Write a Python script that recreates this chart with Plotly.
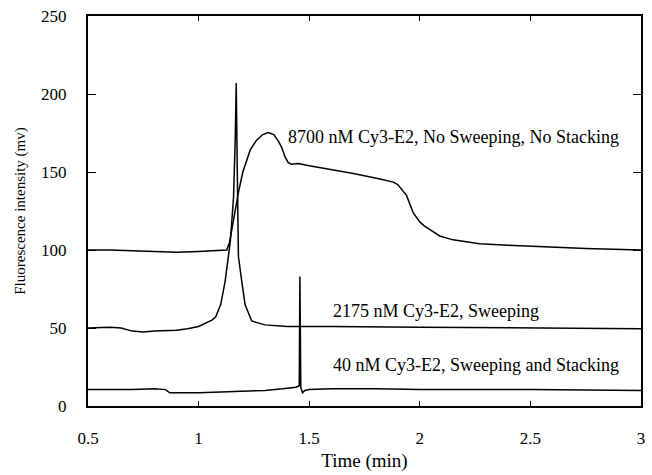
import plotly.graph_objects as go

# Trace 1: 8700 nM, no sweeping, no stacking
t1 = [0.5, 0.6, 0.7, 0.8, 0.9, 1.0, 1.1, 1.127, 1.14, 1.16, 1.18, 1.2, 1.233, 1.26, 1.29, 1.315,
      1.34, 1.36, 1.375, 1.39, 1.405, 1.42, 1.45, 1.5, 1.6, 1.7, 1.82, 1.88, 1.9, 1.94, 1.97, 2.0,
      2.02, 2.09, 2.15, 2.27, 2.4, 2.57, 2.75, 3.0]
v1 = [100, 100, 99.5, 99, 98.5, 99, 99.5, 100, 105, 122, 137, 150, 164, 170, 174, 175.3,
      174, 170, 166, 160, 156, 155, 155.5, 154, 151.5, 149, 145.5, 143.5, 142, 135, 124, 118,
      115.5, 109, 106.5, 104, 103, 102, 101, 100]

# Trace 2: 2175 nM, sweeping
t2 = [0.5, 0.6, 0.65, 0.7, 0.75, 0.8, 0.9, 0.95, 1.0, 1.03, 1.06, 1.077, 1.1, 1.12, 1.143, 1.15,
      1.158, 1.166, 1.17, 1.175, 1.18, 1.195, 1.21, 1.24, 1.3, 1.4, 1.6, 2.0, 2.5, 3.0]
v2 = [50, 50.5, 50, 48, 47.5, 48, 48.5, 49.5, 51, 53, 55, 57, 65, 80, 105, 118,
      134, 173, 207, 150, 96, 80, 65, 54.5, 52, 51, 51, 50.5, 50, 49.5]

# Trace 3: 40 nM, sweeping and stacking
t3 = [0.5, 0.6, 0.7, 0.8, 0.85, 0.87, 0.95, 1.0, 1.1, 1.2, 1.3, 1.38, 1.44, 1.455, 1.458, 1.462,
      1.47, 1.48, 1.5, 1.6, 1.8, 2.0, 2.5, 3.0]
v3 = [10.5, 10.5, 10.5, 11, 10.5, 8.5, 8.5, 8.5, 9, 9.5, 10, 11, 12, 13, 83, 12,
      8.5, 10, 10.5, 11, 11, 10.5, 10.5, 10]

labels = ["8700 nM Cy3-E2, No Sweeping, No Stacking",
          "2175 nM Cy3-E2, Sweeping",
          "40 nM Cy3-E2, Sweeping and Stacking"]
label_x = [1.396, 1.598, 1.598]
label_y = [172.6, 61, 26]

xticks = [0.5, 1, 1.5, 2, 2.5, 3]
yticks = [0, 50, 100, 150, 200, 250]

FONT = "Liberation Serif, Times New Roman, serif"

fig = go.Figure()
for t, v in [(t1, v1), (t2, v2), (t3, v3)]:
    fig.add_trace(go.Scatter(x=t, y=v, mode="lines",
                             line=dict(color="black", width=1.5), showlegend=False))

for txt, x, y in zip(labels, label_x, label_y):
    fig.add_annotation(x=x, y=y, xref="x", yref="y", text=txt, showarrow=False,
                       xanchor="left", yanchor="middle",
                       font=dict(family=FONT, size=18, color="black"))

fig.update_layout(
    width=652, height=475,
    margin=dict(l=88, r=7, t=16, b=66),
    paper_bgcolor="white", plot_bgcolor="white",
    font=dict(family=FONT, size=17, color="black"),
    xaxis=dict(range=[0.5, 3], tickvals=xticks, ticktext=[str(x) for x in xticks],
               showgrid=False, zeroline=False, showline=True, mirror="all",
               linecolor="black", linewidth=2, ticks="inside", ticklen=5,
               tickcolor="black", ticklabelstandoff=16, ticklabeloverflow="allow",
               title=dict(text="Time (min)", font=dict(family=FONT, size=19), standoff=6)),
    yaxis=dict(range=[0, 250], tickvals=yticks,
               showgrid=False, zeroline=False, showline=True, mirror="all",
               linecolor="black", linewidth=2, ticks="inside", ticklen=8,
               tickcolor="black", ticklabelstandoff=16, ticklabeloverflow="allow",
               title=dict(text="Fluorescence intensity (mv)", font=dict(family=FONT, size=15), standoff=12)),
)

fig.write_html("out.html", config={"displayModeBar": False},
               post_script="document.body.style.margin='0';")
